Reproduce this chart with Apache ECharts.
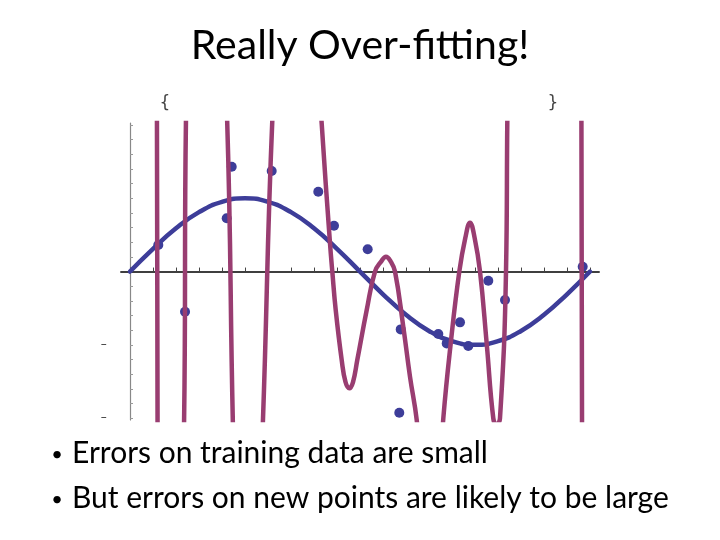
<!DOCTYPE html>
<html>
<head>
<meta charset="utf-8">
<script src="https://cdn.jsdelivr.net/npm/echarts@6/dist/echarts.min.js"></script>
<style>
html,body{margin:0;padding:0;background:#fff;}
#chart{width:720px;height:540px;}
</style>
</head>
<body>
<div id="chart"></div>
<script>
// ---- data ----
const titleText = 'Really Over-fitting!';
const bulletTexts = ['Errors on training data are small', 'But errors on new points are likely to be large'];

const xTickVals = [0,0.05,0.1,0.15,0.2,0.25,0.3,0.35,0.4,0.45,0.5,0.55,0.6,0.65,0.7,0.75,0.8,0.85,0.9,0.95,1];
const yTickVals = [-2,-1.8,-1.6,-1.4,-1.2,-1,-0.8,-0.6,-0.4,-0.2,0,0.2,0.4,0.6,0.8,1,1.2,1.4,1.6,1.8,2];
const yLabelVals = [-2,-1];

// true curve (blue), values read at x step 0.05
const sineX = [0,0.05,0.1,0.15,0.2,0.25,0.3,0.35,0.4,0.45,0.5,0.55,0.6,0.65,0.7,0.75,0.8,0.85,0.9,0.95,1];
const sineY = [0,0.31,0.59,0.81,0.95,1.0,0.95,0.81,0.59,0.31,0,-0.31,-0.59,-0.81,-0.95,-1.0,-0.95,-0.81,-0.59,-0.31,0];

// training points (blue dots)
const dotX = [0.0615,0.1196,0.2102,0.2211,0.3080,0.4093,0.4435,0.5167,0.5885,0.5854,0.6702,0.6885,0.7174,0.7354,0.7789,0.8152,0.9841];
const dotY = [0.362,-0.548,0.726,1.430,1.371,1.089,0.625,0.303,-0.789,-1.926,-0.853,-0.980,-0.693,-1.016,-0.126,-0.389,0.065];

// over-fitted polynomial (purple); values beyond +-2 leave the plot
const polyX = [0.000,0.0585,0.0600,0.090,0.1170,0.1222,0.170,0.2100,0.2245,0.250,0.2875,0.3110,0.360,
  0.4140,0.4167,0.4348,0.4398,0.4472,0.4602,0.4685,0.4767,0.4848,0.4941,0.5146,0.5326,0.5467,0.5565,0.5663,0.5761,0.5941,0.6087,0.6233,0.6280,0.652,
  0.6770,0.6811,0.6972,0.7159,0.7290,0.7391,0.7492,0.7609,0.7754,0.7898,0.7967,0.8043,0.8174,0.8202,0.8215,0.900,
  0.9812,0.9828,1.000];
const polyY = [8,2.3,-2.3,-8,-2.3,2.3,8,2.3,-2.3,-8,-2.3,2.3,8,
  2.4,2.02,0.385,0,-0.525,-1.207,-1.507,-1.593,-1.507,-1.207,-0.525,0,0.143,0.202,0.143,0,-0.753,-1.435,-2.026,-2.5,-3.5,
  -2.5,-2.003,-0.980,0,0.46,0.666,0.46,0,-0.980,-2.003,-2.09,-2.003,0,2.022,2.5,8,
  2.5,-2.5,-8];

// ---- chart ----
const blue = '#3D3D99';
const purple = '#993D71';
const sineData = sineX.map((x, i) => [x, sineY[i]]);
const dotData = dotX.map((x, i) => [x, dotY[i]]);
const polyData = polyX.map((x, i) => [x, polyY[i]]);

const chart = echarts.init(document.getElementById('chart'), null, {renderer: 'canvas'});
const bodyFont = 'Lato';
chart.setOption({
  animation: false,
  backgroundColor: '#ffffff',
  grid: {left: 120.8, top: 123.1, width: 478.4, height: 296.9, containLabel: false},
  xAxis: {
    type: 'value', min: -0.02, max: 1.02,
    axisLine: {show: true, onZero: true, lineStyle: {color: '#000', width: 1.5}},
    axisTick: {show: true, inside: true, length: 4, customValues: xTickVals, lineStyle: {color: '#444', width: 1}},
    axisLabel: {show: false},
    splitLine: {show: false}
  },
  yAxis: {
    type: 'value', min: -2.025, max: 2.025,
    axisLine: {show: true, onZero: true, lineStyle: {color: '#888', width: 1.2}},
    axisTick: {show: true, inside: true, length: 3, customValues: yTickVals, lineStyle: {color: '#999', width: 1}},
    axisLabel: {show: true, customValues: yLabelVals, formatter: () => '\u2013', margin: 14, fontSize: 12, color: '#333', fontFamily: 'DejaVu Sans'},
    splitLine: {show: false}
  },
  series: [
    {type: 'line', data: sineData, smooth: true, showSymbol: false, z: 2,
     lineStyle: {color: blue, width: 4.5, cap: 'round'}},
    {type: 'scatter', data: dotData, symbol: 'circle', symbolSize: 10, z: 3,
     itemStyle: {color: blue, opacity: 1}},
    {type: 'line', data: polyData, smooth: 0.45, showSymbol: false, clip: true, z: 4,
     lineStyle: {color: purple, width: 4.5, join: 'round'}}
  ],
  graphic: [
    {type: 'text', left: 'center', top: 25, style: {text: titleText, font: '41px Lato', fill: '#000'}},
    {type: 'text', x: 165, y: 104, style: {text: '{', font: '17px "DejaVu Sans"', fill: '#444', align: 'center', verticalAlign: 'middle'}},
    {type: 'text', x: 553, y: 104, style: {text: '}', font: '17px "DejaVu Sans"', fill: '#444', align: 'center', verticalAlign: 'middle'}},
    {type: 'text', x: 57, y: 455, style: {text: '\u2022', font: '20px Lato', fill: '#000', align: 'center', verticalAlign: 'middle'}},
    {type: 'text', x: 72, y: 453, style: {text: bulletTexts[0], font: '30px ' + bodyFont, fill: '#000', verticalAlign: 'middle'}},
    {type: 'text', x: 57, y: 500, style: {text: '\u2022', font: '20px Lato', fill: '#000', align: 'center', verticalAlign: 'middle'}},
    {type: 'text', x: 72, y: 498, style: {text: bulletTexts[1], font: '30px ' + bodyFont, fill: '#000', verticalAlign: 'middle'}}
  ]
});
</script>
</body>
</html>
